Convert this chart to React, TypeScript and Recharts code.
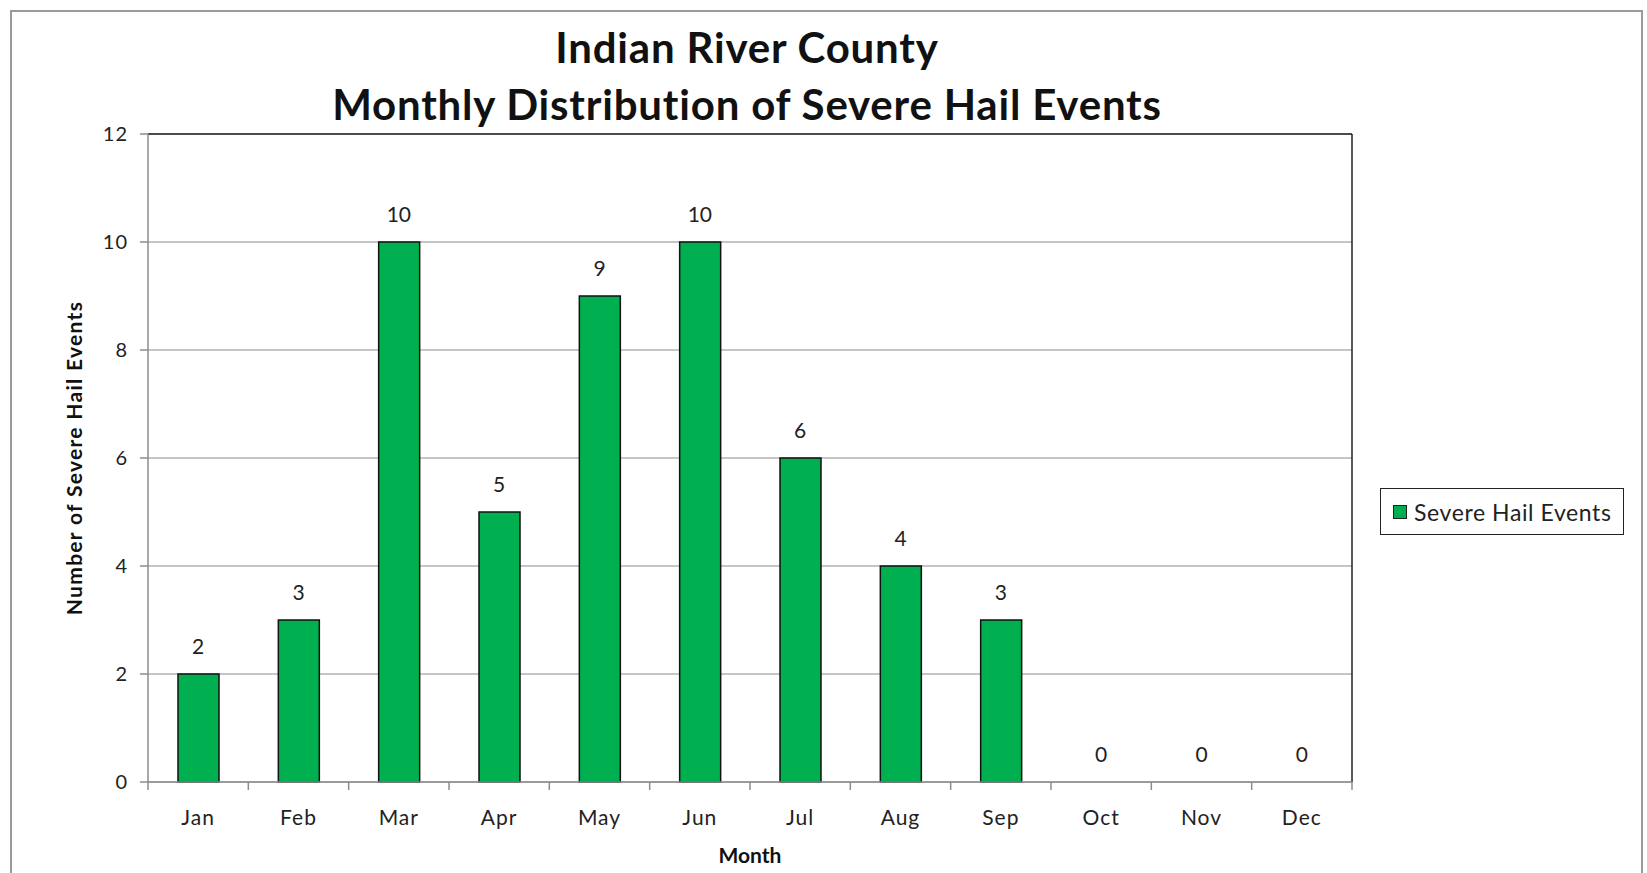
import { Bar, CartesianGrid, ComposedChart, LabelList, Legend, Line, ReferenceLine, XAxis, YAxis } from "recharts";

const months = ["Jan", "Feb", "Mar", "Apr", "May", "Jun", "Jul", "Aug", "Sep", "Oct", "Nov", "Dec"];
const hailEvents = [2, 3, 10, 5, 9, 10, 6, 4, 3, 0, 0, 0];
const yTicks = [0, 2, 4, 6, 8, 10, 12];

const data = months.map((m, i) => ({ month: m, events: hailEvents[i] }));

const FONT = "Lato, 'Open Sans', sans-serif";
const GREEN = "#00b050";
const AXIS_GRAY = "#8c8c8c";
const TICK_SIZE = 8;
const TICK_MARGIN = 20;

// Excel puts the category ticks between the bars, so draw them at the band edges
function MonthTick(props: any) {
  const { x, y, payload, index } = props;
  const half = payload.offset ?? 0;
  const axisY = y - TICK_SIZE - TICK_MARGIN;
  const last = index === months.length - 1;
  return (
    <g>
      <line x1={x - half} x2={x - half} y1={axisY} y2={axisY + TICK_SIZE} stroke={AXIS_GRAY} strokeWidth={1.5} />
      {last && <line x1={x + half} x2={x + half} y1={axisY} y2={axisY + TICK_SIZE} stroke={AXIS_GRAY} strokeWidth={1.5} />}
      <text x={x} y={y} dy="0.71em" textAnchor="middle" fontFamily={FONT} fontSize={21} letterSpacing={1} fill="#222">
        {payload.value}
      </text>
    </g>
  );
}

function LegendBox() {
  return (
    <div
      style={{
        width: 244,
        height: 47,
        border: "1.5px solid #222",
        background: "#fff",
        display: "flex",
        alignItems: "center",
        fontFamily: FONT,
        fontSize: 23,
        letterSpacing: 0.6,
        color: "#222",
        boxSizing: "border-box",
      }}
    >
      <span
        style={{
          display: "inline-block",
          width: 12,
          height: 12,
          background: GREEN,
          border: "1.5px solid #222",
          marginLeft: 12,
          marginRight: 7,
        }}
      />
      Severe Hail Events
    </div>
  );
}

function YTitle() {
  const x = 73;
  const y = 458;
  return (
    <text
      x={x}
      y={y}
      transform={`rotate(-90 ${x} ${y})`}
      textAnchor="middle"
      dominantBaseline="central"
      fontFamily={FONT}
      fontWeight={700}
      fontSize={21}
      letterSpacing={1.3}
      fill="#111"
    >
      Number of Severe Hail Events
    </text>
  );
}

export default function App() {
  return (
    <div style={{ position: "absolute", left: 0, top: 0, width: 1647, height: 873, background: "#fff", overflow: "hidden" }}>
      <div
        style={{
          position: "absolute",
          left: 10,
          top: 10,
          width: 1633,
          height: 900,
          border: "2px solid #9a9a9a",
          boxSizing: "border-box",
        }}
      />
      <div
        style={{
          position: "absolute",
          left: 0,
          top: 19,
          width: 1494,
          textAlign: "center",
          fontFamily: FONT,
          fontWeight: 700,
          fontSize: 42,
          letterSpacing: 0.8,
          lineHeight: "57px",
          color: "#111",
        }}
      >
        <div>Indian River County</div>
        <div>Monthly Distribution of Severe Hail Events</div>
      </div>
      <div style={{ position: "absolute", left: 0, top: 0 }}>
        <ComposedChart
          width={1647}
          height={873}
          data={data}
          margin={{ top: 134, right: 295, bottom: 6, left: 50 }}
          barSize={41}
        >
          <CartesianGrid vertical={false} stroke={AXIS_GRAY} strokeWidth={1.2} />
          <XAxis
            dataKey="month"
            height={85}
            axisLine={{ stroke: AXIS_GRAY, strokeWidth: 1.5 }}
            tickLine={false}
            tickSize={TICK_SIZE}
            tickMargin={TICK_MARGIN}
            tick={<MonthTick />}
            interval={0}
            label={{
              value: "Month",
              position: "insideBottom",
              offset: 4,
              style: { fontFamily: FONT, fontWeight: 700, fontSize: 21, fill: "#111" },
            }}
          />
          <YAxis
            domain={[0, 12]}
            ticks={yTicks}
            width={98}
            axisLine={{ stroke: AXIS_GRAY, strokeWidth: 1.5 }}
            tickLine={{ stroke: AXIS_GRAY, strokeWidth: 1.5 }}
            tickSize={8}
            tickMargin={12}
            tick={{ fontFamily: FONT, fontSize: 20, fill: "#222", letterSpacing: 1 }}
            label={<YTitle />}
          />
          <ReferenceLine y={12} stroke="#222" strokeWidth={1.5} />
          <ReferenceLine x="Dec" position="end" stroke="#222" strokeWidth={1.5} />
          <Legend
            layout="horizontal"
            verticalAlign="middle"
            align="center"
            content={<LegendBox />}
            wrapperStyle={{ position: "absolute", left: 1380, top: 488, width: 244, height: 47 }}
          />
          <Bar dataKey="events" name="Severe Hail Events" fill={GREEN} stroke="#111" strokeWidth={1.5} isAnimationActive={false} />
          <Line
            dataKey="events"
            legendType="none"
            stroke="none"
            dot={false}
            activeDot={false}
            isAnimationActive={false}
          >
            <LabelList dataKey="events" position="top" offset={20} style={{ fontFamily: FONT, fontSize: 21, fill: "#222" }} />
          </Line>
        </ComposedChart>
      </div>
    </div>
  );
}
